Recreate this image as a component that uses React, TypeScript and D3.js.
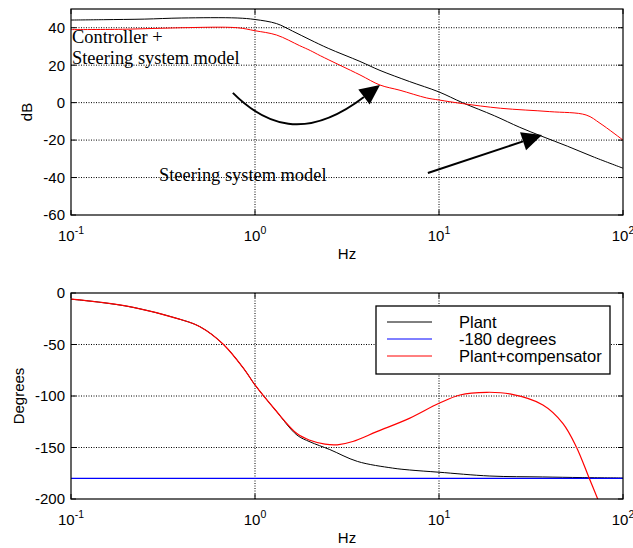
import React from "react";
import * as d3 from "d3";

// ---------- DATA ----------
const xTicks = [0.1, 1, 10, 100];
const xTickExp = ["-1", "0", "1", "2"];
const magTicks = [-60, -40, -20, 0, 20, 40];
const phaseTicks = [-200, -150, -100, -50, 0];

// Magnitude: steering system model (black)
const plantMagFreq = [0.1, 0.15, 0.25, 0.4, 0.8, 1.0, 1.31, 1.6, 1.99, 2.5, 3.72, 4.78, 6.9, 10, 13.4, 20, 27.5, 36.3, 50, 70, 100];
const plantMagDb = [44.1, 44.3, 44.6, 45.2, 45.2, 44.4, 42.2, 38.2, 33.6, 29.0, 22.0, 17.2, 11.3, 5.7, 0, -7, -13.2, -18.0, -23.3, -29.2, -35];

// Magnitude: controller + steering system model (red)
const compMagFreq = [0.1, 0.2, 0.4, 0.8, 1.0, 1.31, 1.75, 2.0, 2.27, 3.72, 4.78, 6.14, 8.57, 10, 13.4, 21.6, 40, 63, 75, 100];
const compMagDb = [39.0, 39.2, 40.0, 40.0, 38.4, 36.1, 30.4, 27.8, 25.0, 14.8, 9.4, 6.6, 2.5, 1.4, -0.5, -3, -4.8, -6.6, -11, -20];

// Phase: plant (black)
const plantPhFreq = [0.1, 0.144, 0.218, 0.375, 0.502, 0.67, 0.88, 1.0, 1.29, 1.69, 1.99, 2.55, 3.6, 5.6, 6.9, 10, 18.9, 36.6, 60, 100];
const plantPhDeg = [-6, -9, -14, -24.6, -32.7, -49.5, -74.8, -89.3, -113.6, -137.9, -144.5, -152, -163.5, -170, -171.8, -174, -177.7, -178.6, -179.2, -179.6];

// Phase: plant + compensator (red)
const compPhFreq = [0.1, 0.144, 0.218, 0.375, 0.502, 0.67, 0.88, 1.0, 1.29, 1.69, 1.99, 2.4, 2.8, 3.4, 4.59, 6.9, 10, 13, 18.2, 24.3, 36.7, 47.1, 55.7, 65.7, 73];
const compPhDeg = [-6, -9, -14, -24.6, -32.7, -49.5, -74.8, -89.3, -113.6, -136.5, -143.0, -146.8, -147.4, -144.2, -134.6, -121.7, -107.1, -99, -96.4, -98, -108.7, -126.5, -149.2, -180.3, -200.3];

// -180 degree reference
const refFreq = [0.1, 100];
const refDeg = [-180, -180];

const legendLabels = ["Plant", "-180 degrees", "Plant+compensator"];
const legendColors = ["#000000", "#0000ff", "#ff0000"];

// ---------- LAYOUT ----------
const W = 633;
const H = 548;
const left = 71;
const right = 623;
const top1 = 9;
const bot1 = 215;
const top2 = 293;
const bot2 = 499;

const sans = "'Liberation Sans', Arial, sans-serif";
const serif = "'Liberation Serif', 'Times New Roman', serif";

const x = d3.scaleLog().domain([0.1, 100]).range([left, right]);
const yMag = d3.scaleLinear().domain([-60, 50]).range([bot1, top1]);
const yPh = d3.scaleLinear().domain([-200, 0]).range([bot2, top2]);

function makePath(fs: number[], vs: number[], y: d3.ScaleLinear<number, number>) {
  const pts: [number, number][] = fs.map((f, i) => [x(f), y(vs[i])]);
  return d3.line().curve(d3.curveCatmullRom.alpha(0.5))(pts) || "";
}

function Axes({ y, ticks, top, bot, ylabel, yLabelX, clipId }: any) {
  const gridDash = "1,1.5";
  return (
    <g>
      {xTicks.slice(1, -1).map((t) => (
        <line key={"gx" + t} x1={x(t)} x2={x(t)} y1={top} y2={bot} stroke="#000" strokeWidth={1} strokeDasharray={gridDash} />
      ))}
      {ticks.slice(1).filter((t: number) => y(t) > top + 1).map((t: number) => (
        <line key={"gy" + t} x1={left} x2={right} y1={y(t)} y2={y(t)} stroke="#000" strokeWidth={1} strokeDasharray={gridDash} />
      ))}
      {xTicks.map((t) => (
        <g key={"tx" + t}>
          <line x1={x(t)} x2={x(t)} y1={bot} y2={bot - 5} stroke="#000" />
          <line x1={x(t)} x2={x(t)} y1={top} y2={top + 5} stroke="#000" />
        </g>
      ))}
      {ticks.map((t: number) => (
        <g key={"ty" + t}>
          <line x1={left} x2={left + 5} y1={y(t)} y2={y(t)} stroke="#000" />
          <line x1={right} x2={right - 5} y1={y(t)} y2={y(t)} stroke="#000" />
        </g>
      ))}
      {ticks.map((t: number) => (
        <text key={"ly" + t} x={left - 6} y={y(t)} dy="0.36em" textAnchor="end" fontFamily={sans} fontSize={15}>
          {t}
        </text>
      ))}
      {xTicks.map((t, i) => (
        <text key={"lx" + t} x={x(t)} y={bot + 26} textAnchor="middle" fontFamily={sans} fontSize={15}>
          10
          <tspan fontSize={10.5} dy={-7}>{xTickExp[i]}</tspan>
        </text>
      ))}
      <text x={(left + right) / 2} y={bot + 44} textAnchor="middle" fontFamily={sans} fontSize={15}>
        Hz
      </text>
      <text
        transform={`translate(${yLabelX},${(top + bot) / 2}) rotate(-90)`}
        textAnchor="middle"
        fontFamily={sans}
        fontSize={15}
      >
        {ylabel}
      </text>
      <clipPath id={clipId}>
        <rect x={left} y={top} width={right - left} height={bot - top} />
      </clipPath>
    </g>
  );
}

function arrowHead(tip: [number, number], from: [number, number], len: number, width: number) {
  const dx = tip[0] - from[0];
  const dy = tip[1] - from[1];
  const d = Math.hypot(dx, dy);
  const ux = dx / d;
  const uy = dy / d;
  const bx = tip[0] - ux * len;
  const by = tip[1] - uy * len;
  const px = -uy;
  const py = ux;
  return `M${tip[0]},${tip[1]}L${bx + (px * width) / 2},${by + (py * width) / 2}L${bx - (px * width) / 2},${by - (py * width) / 2}Z`;
}

export default function App() {
  const a1Start: [number, number] = [x(0.758), yMag(5.2)];
  const a1C1: [number, number] = [x(1.133), yMag(-11.9)];
  const a1C2: [number, number] = [x(1.87), yMag(-21)];
  const a1Base: [number, number] = [x(3.91), yMag(3.0)];
  const a1Tip: [number, number] = [x(4.78), yMag(9.4)];

  const a2Start: [number, number] = [x(8.7), yMag(-37.6)];
  const a2Tip: [number, number] = [x(36.3), yMag(-17.3)];
  const a2Dir = [a2Tip[0] - a2Start[0], a2Tip[1] - a2Start[1]];
  const a2Len = Math.hypot(a2Dir[0], a2Dir[1]);
  const a2Base: [number, number] = [a2Tip[0] - (a2Dir[0] / a2Len) * 20, a2Tip[1] - (a2Dir[1] / a2Len) * 20];

  const legX = 376;
  const legY = 306;

  return (
    <svg width={W} height={H} style={{ display: "block", position: "absolute", left: 0, top: 0 }}>
      <rect x={0} y={0} width={W} height={H} fill="#fff" />

      {/* ===== TOP: magnitude ===== */}
      <Axes y={yMag} ticks={magTicks} top={top1} bot={bot1} ylabel="dB" yLabelX={32} clipId="clip1" />
      <g clipPath="url(#clip1)">
        <path d={makePath(plantMagFreq, plantMagDb, yMag)} fill="none" stroke="#000" strokeWidth={1} />
        <path d={makePath(compMagFreq, compMagDb, yMag)} fill="none" stroke="#ff0000" strokeWidth={1} />
      </g>
      <rect x={left} y={top1} width={right - left} height={bot1 - top1} fill="none" stroke="#000" strokeWidth={1.2} />

      <text x={left + 1} y={43} fontFamily={serif} fontSize={18.4}>Controller +</text>
      <text x={left + 1} y={64} fontFamily={serif} fontSize={18.4}>Steering system model</text>
      <text x={159} y={181} fontFamily={serif} fontSize={18.4}>Steering system model</text>

      <path
        d={`M${a1Start[0]},${a1Start[1]}C${a1C1[0]},${a1C1[1]} ${a1C2[0]},${a1C2[1]} ${a1Base[0]},${a1Base[1]}`}
        fill="none"
        stroke="#000"
        strokeWidth={2}
      />
      <path d={arrowHead(a1Tip, a1Base, 20, 19)} fill="#000" />
      <line x1={a2Start[0]} y1={a2Start[1]} x2={a2Base[0]} y2={a2Base[1]} stroke="#000" strokeWidth={2} />
      <path d={arrowHead(a2Tip, a2Start, 20, 19)} fill="#000" />

      {/* ===== BOTTOM: phase ===== */}
      <Axes y={yPh} ticks={phaseTicks} top={top2} bot={bot2} ylabel="Degrees" yLabelX={24} clipId="clip2" />
      <g clipPath="url(#clip2)">
        <path d={makePath(plantPhFreq, plantPhDeg, yPh)} fill="none" stroke="#000" strokeWidth={1} />
        <path d={makePath(refFreq, refDeg, yPh)} fill="none" stroke="#0000ff" strokeWidth={1.2} />
        <path d={makePath(compPhFreq, compPhDeg, yPh)} fill="none" stroke="#ff0000" strokeWidth={1.2} />
      </g>
      <rect x={left} y={top2} width={right - left} height={bot2 - top2} fill="none" stroke="#000" strokeWidth={1.2} />

      <rect x={legX} y={legY} width={234} height={68} fill="#fff" stroke="#000" strokeWidth={1.3} />
      {legendLabels.map((l, i) => (
        <g key={l}>
          <line x1={legX + 11} x2={legX + 56} y1={legY + 16 + i * 17} y2={legY + 16 + i * 17} stroke={legendColors[i]} strokeWidth={1} />
          <text x={legX + 83} y={legY + 16 + i * 17} dy="0.36em" fontFamily={sans} fontSize={16.5}>
            {l}
          </text>
        </g>
      ))}
    </svg>
  );
}
